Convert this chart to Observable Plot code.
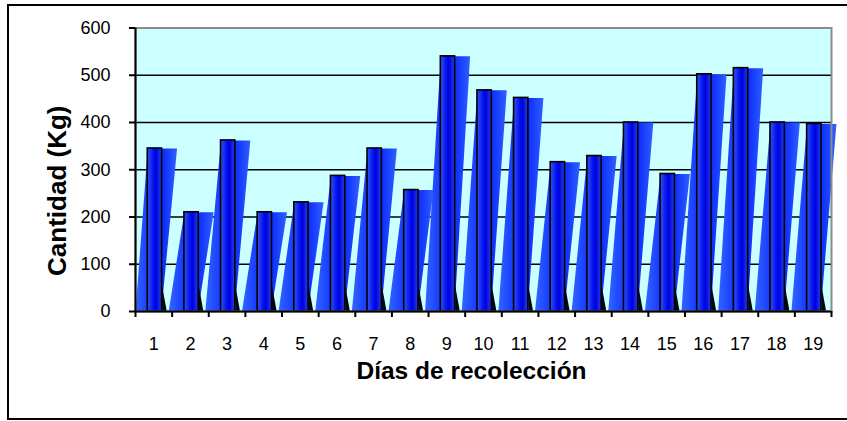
<!DOCTYPE html>
<html>
<head>
<meta charset="utf-8">
<script src="https://cdn.jsdelivr.net/npm/d3@7"></script>
<script src="https://cdn.jsdelivr.net/npm/@observablehq/plot@0.6"></script>
<style>
  html, body { margin: 0; padding: 0; background: #fff; overflow: hidden; }
  #wrap { position: relative; width: 847px; height: 421px; }
  #chart svg { display: block; background: transparent; }
  #border { position: absolute; left: 7px; top: 4px; width: 1000px; height: 412px;
            border: 2px solid #000; pointer-events: none; }
</style>
</head>
<body>
<div id="wrap">
  <div id="chart"></div>
  <div id="border"></div>
</div>
<script>
// Harvest quantity per collection day
const days = ["1","2","3","4","5","6","7","8","9","10","11","12","13","14","15","16","17","18","19"];
const cantidad = [345, 210, 362, 210, 231, 287, 345, 257, 540, 468, 452, 316, 329, 400, 291, 502, 515, 400, 397];
const yTicks = [0, 100, 200, 300, 400, 500, 600];
const gridValues = [100, 200, 300, 400, 500];

// Column geometry inside each day slot (slot = 1 unit on x)
const FRONT_L = 0.335, FRONT_R = 0.725;
const SIDE_W = 0.41;   // how far the side face reaches past the front at the top
const SKEW = 0.43;     // horizontal lean of the side face from foot to top
const SHADOW_W = 0.13, SHADOW_H = 55;

const rows = days.map((d, i) => ({day: d, i, value: cantidad[i]}));

// slanted side face of each column
const sides = rows.flatMap(r => [
  {day: r.day, x: Math.max(0, r.i + FRONT_L - SKEW), y: 0},
  {day: r.day, x: r.i + FRONT_L, y: r.value},
  {day: r.day, x: r.i + FRONT_R + SIDE_W, y: r.value},
  {day: r.day, x: r.i + FRONT_R + SIDE_W - SKEW, y: 0}
]);

// dark wedge at the foot of each column
const shadows = rows.flatMap(r => [
  {day: r.day, x: r.i + FRONT_R, y: 0},
  {day: r.day, x: r.i + FRONT_R + SHADOW_W, y: 0},
  {day: r.day, x: r.i + FRONT_R, y: SHADOW_H}
]);

const font = "'Liberation Sans', Arial, sans-serif";

const svg = Plot.plot({
  width: 847,
  height: 421,
  marginLeft: 135,
  marginRight: 16,
  marginTop: 27.5,
  marginBottom: 110,
  style: {fontFamily: font, fontSize: "18px", color: "#000", background: "transparent"},
  x: {domain: [0, days.length], axis: null},
  y: {domain: [0, 600], axis: null},
  marks: [
    Plot.frame({fill: "#ccffff", stroke: "none"}),
    Plot.ruleY(gridValues, {stroke: "#000", strokeWidth: 1.6}),
    Plot.line(sides, {x: "x", y: "y", z: "day", fill: "url(#sideGrad)", stroke: "none"}),
    Plot.line(shadows, {x: "x", y: "y", z: "day", fill: "#00051a", stroke: "none"}),
    Plot.rectY(rows, {
      x1: r => r.i + FRONT_L, x2: r => r.i + FRONT_R,
      y1: 0, y2: "value",
      fill: "url(#frontGrad)", stroke: "#000", strokeWidth: 1.6
    }),
    Plot.frame({stroke: "#8c8c8c", strokeWidth: 2, fill: "none"}),
    Plot.ruleX([0], {stroke: "#000", strokeWidth: 2}),
    Plot.ruleY([0], {stroke: "#000", strokeWidth: 2}),
    Plot.axisY(yTicks, {anchor: "left", tickSize: 6, tickPadding: 19, strokeWidth: 2, fontSize: 18, label: null}),
    Plot.axisX(d3.range(days.length + 1), {anchor: "bottom", tickSize: 6, strokeWidth: 2, tickFormat: () => "", label: null}),
    Plot.axisX(rows.map(r => r.i + 0.5), {
      anchor: "bottom", tickSize: 0, tickPadding: 26, fontSize: 18, label: null,
      tickFormat: v => days[Math.floor(v)]
    }),
    Plot.text(["Días de recolección"], {
      text: d => d, frameAnchor: "bottom", textAnchor: "middle", lineAnchor: "middle",
      dx: -12, dy: 60, fontSize: 24.5, fontWeight: "bold"
    }),
    Plot.text(["Cantidad (Kg)"], {
      text: d => d, frameAnchor: "left", textAnchor: "middle", lineAnchor: "middle",
      rotate: -90, dx: -77.5, dy: 21, fontSize: 26, fontWeight: "bold"
    })
  ]
});

// gradients for the column faces
const defs = d3.select(svg).insert("defs", ":first-child");
const front = defs.append("linearGradient").attr("id", "frontGrad")
  .attr("x1", 0).attr("x2", 1).attr("y1", 0).attr("y2", 0);
[[0, "#3355ee"], [0.45, "#0010ee"], [0.62, "#0000e0"], [1, "#2244e6"]]
  .forEach(([o, c]) => front.append("stop").attr("offset", o).attr("stop-color", c));
const side = defs.append("linearGradient").attr("id", "sideGrad")
  .attr("x1", 0).attr("x2", 1).attr("y1", 0).attr("y2", 0);
[[0, "#3366ff"], [0.35, "#1438ff"], [0.55, "#0020f5"], [0.8, "#1a40ff"], [1, "#3060ff"]]
  .forEach(([o, c]) => side.append("stop").attr("offset", o).attr("stop-color", c));

document.getElementById("chart").appendChild(svg);
</script>
</body>
</html>
